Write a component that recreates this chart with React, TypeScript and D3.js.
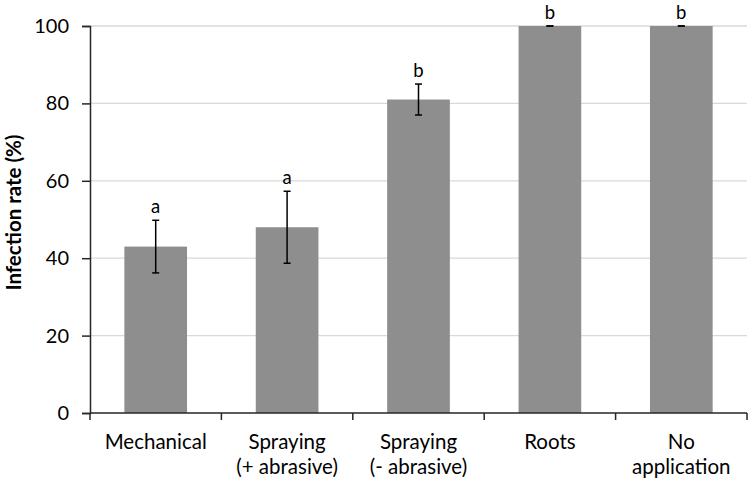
import React, { useRef, useEffect } from 'react';
import * as d3 from 'd3';

const categories = ['Mechanical', 'Spraying\n(+ abrasive)', 'Spraying\n(- abrasive)', 'Roots', 'No\napplication'];
const values = [43, 48, 81, 100, 100];
const errors = [6.8, 9.3, 4, 0, 0];
const letters = ['a', 'a', 'b', 'b', 'b'];
const yTicks = [0, 20, 40, 60, 80, 100];

const W = 749;
const H = 483;
const margin = { top: 26, right: 2, bottom: 70, left: 90 };
const FONT = 'Lato, "Open Sans", sans-serif';

const App = () => {
  const ref = useRef<SVGSVGElement>(null);

  useEffect(() => {
    const svg = d3.select(ref.current);
    svg.selectAll('*').remove();

    const x = d3.scaleBand()
      .domain(categories)
      .range([margin.left, W - margin.right])
      .paddingInner(0.523)
      .paddingOuter(0.2615);

    const y = d3.scaleLinear()
      .domain([0, 100])
      .range([H - margin.bottom, margin.top]);

    // gridlines
    svg.append('g')
      .selectAll('line')
      .data(yTicks.filter(d => d > 0))
      .join('line')
      .attr('x1', margin.left)
      .attr('x2', W - margin.right)
      .attr('y1', d => y(d))
      .attr('y2', d => y(d))
      .attr('stroke', '#d9d9d9')
      .attr('stroke-width', 1.3);

    // bars
    svg.append('g')
      .selectAll('rect')
      .data(values)
      .join('rect')
      .attr('x', (d, i) => x(categories[i]))
      .attr('y', d => y(d))
      .attr('width', x.bandwidth())
      .attr('height', d => y(0) - y(d))
      .attr('fill', '#8e8e8e');

    // error bars
    const eb = svg.append('g').attr('stroke', '#000').attr('stroke-width', 1.5);
    values.forEach((v, i) => {
      const cx = x(categories[i]) + x.bandwidth() / 2;
      const top = y(v + errors[i]);
      const bot = y(v - errors[i]);
      eb.append('line').attr('x1', cx).attr('x2', cx).attr('y1', top).attr('y2', bot);
      eb.append('line').attr('x1', cx - 3.5).attr('x2', cx + 3.5).attr('y1', top).attr('y2', top);
      eb.append('line').attr('x1', cx - 3.5).attr('x2', cx + 3.5).attr('y1', bot).attr('y2', bot);
    });

    // letters
    svg.append('g')
      .selectAll('text')
      .data(letters)
      .join('text')
      .attr('x', (d, i) => x(categories[i]) + x.bandwidth() / 2)
      .attr('y', (d, i) => y(values[i] + errors[i]) - 7.5)
      .attr('text-anchor', 'middle')
      .attr('font-family', FONT)
      .attr('font-size', 18.5)
      .attr('fill', '#000')
      .text(d => d);

    // y axis
    const yAxis = svg.append('g')
      .attr('transform', `translate(${margin.left},0)`)
      .call(d3.axisLeft(y).tickValues(yTicks).tickSize(8).tickPadding(13));
    yAxis.select('.domain').attr('stroke', '#262626').attr('stroke-width', 1.5);
    yAxis.selectAll('.tick line').attr('stroke', '#262626').attr('stroke-width', 1.5);
    yAxis.selectAll('.tick text')
      .attr('font-family', FONT)
      .attr('font-size', 20)
      .attr('fill', '#000');

    // x axis
    const xa = svg.append('g');
    xa.append('line')
      .attr('x1', margin.left).attr('x2', W - margin.right)
      .attr('y1', y(0)).attr('y2', y(0))
      .attr('stroke', '#262626').attr('stroke-width', 1.5);
    const bounds = categories.map(c => x(c) - (x.step() * x.paddingInner()) / 2).concat([W - margin.right]);
    bounds[0] = margin.left;
    xa.selectAll('line.tk')
      .data(bounds)
      .join('line')
      .attr('class', 'tk')
      .attr('x1', d => d).attr('x2', d => d)
      .attr('y1', y(0)).attr('y2', y(0) + 7)
      .attr('stroke', '#262626').attr('stroke-width', 1.5);

    categories.forEach(c => {
      const t = xa.append('text')
        .attr('x', x(c) + x.bandwidth() / 2)
        .attr('y', y(0) + 36)
        .attr('text-anchor', 'middle')
        .attr('font-family', FONT)
        .attr('font-size', 20.5)
        .attr('fill', '#000');
      c.split('\n').forEach((line, j) => {
        t.append('tspan')
          .attr('x', x(c) + x.bandwidth() / 2)
          .attr('dy', j === 0 ? 0 : 25)
          .text(line);
      });
    });

    // y title
    svg.append('text')
      .attr('transform', `translate(21,${(y(0) + y(100)) / 2 - 7}) rotate(-90)`)
      .attr('text-anchor', 'middle')
      .attr('font-family', FONT)
      .attr('font-size', 20.5)
      .attr('font-weight', 'bold')
      .attr('fill', '#000')
      .text('Infection rate (%)');
  }, []);

  return (
    <svg ref={ref} width={W} height={H} style={{ position: 'absolute', left: 0, top: 0, background: '#fff' }}></svg>
  );
};

export default App;
